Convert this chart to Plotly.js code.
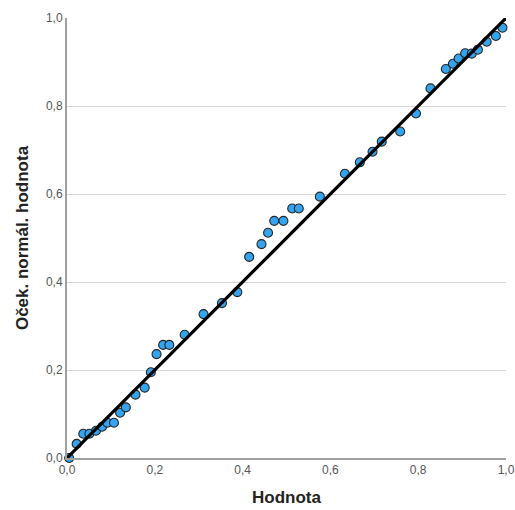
<!DOCTYPE html>
<html>
<head>
<meta charset="utf-8">
<script src="https://cdn.plot.ly/plotly-3.0.1.min.js"></script>
<style>html,body{margin:0;padding:0;background:#fff;}#chart{width:515px;height:510px;}</style>
</head>
<body>
<div id="chart"></div>
<script>
var observed = [0.005,0.022,0.037,0.051,0.066,0.080,0.092,0.107,0.121,0.134,0.156,0.177,0.191,0.204,0.219,0.233,0.268,0.311,0.353,0.388,0.415,0.443,0.458,0.472,0.493,0.513,0.528,0.576,0.633,0.667,0.696,0.717,0.759,0.795,0.828,0.863,0.879,0.892,0.907,0.922,0.936,0.956,0.977,0.992];
var expected = [0.000,0.032,0.055,0.055,0.062,0.071,0.080,0.080,0.103,0.115,0.144,0.160,0.195,0.236,0.257,0.257,0.280,0.327,0.352,0.377,0.457,0.486,0.512,0.539,0.539,0.567,0.567,0.594,0.646,0.672,0.696,0.719,0.742,0.783,0.840,0.884,0.896,0.908,0.920,0.919,0.928,0.946,0.959,0.978];
var refLineX = [0, 1];
var refLineY = [0, 1];
var tickVals = [0, 0.2, 0.4, 0.6, 0.8, 1.0];
var xTitle = 'Hodnota';
var yTitle = 'Oček. normál. hodnota';

var traces = [
  {x: observed, y: expected, mode: 'markers', type: 'scatter',
   marker: {color: '#34a4ee', size: 9, line: {color: '#262626', width: 1.1}},
   cliponaxis: false, hoverinfo: 'x+y'},
  {x: refLineX, y: refLineY, mode: 'lines', type: 'scatter',
   line: {color: '#000', width: 3.2}, hoverinfo: 'skip'}
];
var axisFont = {family: 'Liberation Sans, Arial, sans-serif', size: 12, color: '#555'};
var titleFont = {family: 'Liberation Sans, Arial, sans-serif', size: 17, color: '#222', weight: 'bold'};
var layout = {
  width: 515, height: 510,
  margin: {l: 67, r: 9, t: 18, b: 52},
  showlegend: false,
  separators: ',.',
  paper_bgcolor: '#fff', plot_bgcolor: '#fff',
  font: {family: 'Liberation Sans, Arial, sans-serif'},
  xaxis: {range: [0, 1], tickvals: tickVals, tickformat: '.1f', showgrid: false, zeroline: false,
    showline: true, linecolor: '#a0a0a0', linewidth: 2, ticks: '', tickfont: axisFont,
    title: {text: xTitle, font: titleFont, standoff: 15}},
  yaxis: {range: [0, 1], tickvals: tickVals, tickformat: '.1f', showgrid: true, gridcolor: '#d6d6d6', gridwidth: 1,
    zeroline: false, showline: true, linecolor: '#a0a0a0', linewidth: 2, ticks: '', tickfont: axisFont,
    title: {text: yTitle, font: titleFont, standoff: 13}}
};
Plotly.newPlot('chart', traces, layout, {displayModeBar: false, staticPlot: true});
</script>
</body>
</html>
